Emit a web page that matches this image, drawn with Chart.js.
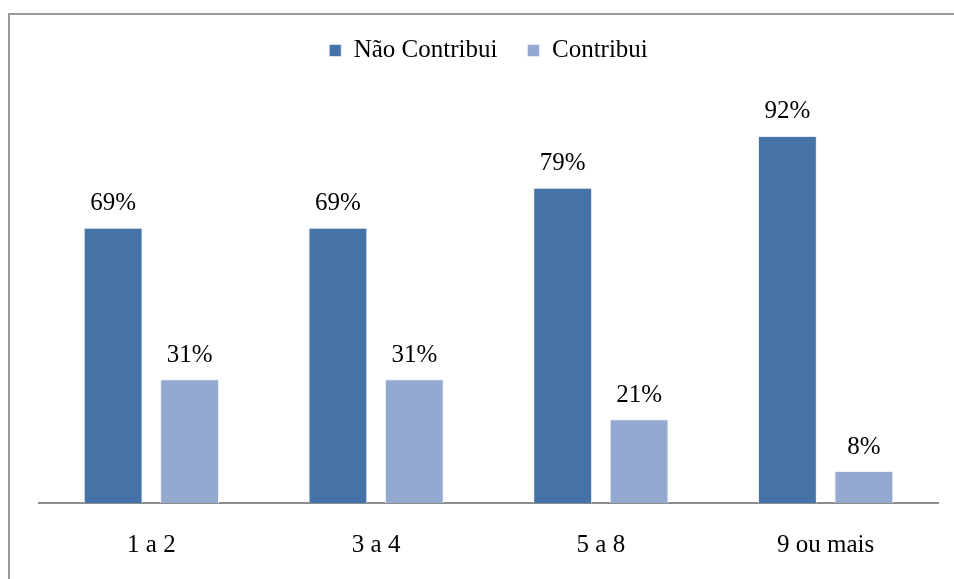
<!DOCTYPE html>
<html>
<head>
<meta charset="utf-8">
<script src="https://cdn.jsdelivr.net/npm/chart.js@4"></script>
<style>
html,body{margin:0;padding:0;background:#fff;}
canvas{display:block;}
</style>
</head>
<body>
<canvas id="c" width="954" height="579"></canvas>
<script>
const categories = ["1 a 2", "3 a 4", "5 a 8", "9 ou mais"];
const naoContribui = [69, 69, 79, 92];
const contribui = [31, 31, 21, 8];
const seriesNames = ["Não Contribui", "Contribui"];

const FONT = "'Liberation Serif', 'Times New Roman', serif";
const FSIZE = 25;

const framePlugin = {
  id: 'frame',
  beforeDraw(chart) {
    const ctx = chart.ctx;
    ctx.save();
    ctx.fillStyle = '#fff';
    ctx.fillRect(0, 0, chart.width, chart.height);
    ctx.strokeStyle = '#9a9a9a';
    ctx.lineWidth = 2;
    ctx.beginPath();
    ctx.moveTo(9, chart.height);
    ctx.lineTo(9, 14);
    ctx.lineTo(chart.width, 14);
    ctx.stroke();
    ctx.restore();
  }
};

const legendHeight = {
  id: 'legendHeight',
  beforeInit(chart) {
    const orig = chart.legend.fit;
    chart.legend.fit = function () {
      orig.bind(chart.legend)();
      this.height = 96;
    };
  }
};

const labelPlugin = {
  id: 'valueLabels',
  afterDatasetsDraw(chart) {
    const ctx = chart.ctx;
    ctx.save();
    ctx.font = FSIZE + 'px ' + FONT;
    ctx.fillStyle = '#000';
    ctx.textAlign = 'center';
    ctx.textBaseline = 'middle';
    chart.data.datasets.forEach((ds, i) => {
      const meta = chart.getDatasetMeta(i);
      meta.data.forEach((el, j) => {
        ctx.fillText(ds.data[j] + '%', el.x, el.y - 24);
      });
    });
    ctx.restore();
  }
};

new Chart(document.getElementById('c'), {
  type: 'bar',
  data: {
    labels: categories,
    datasets: [
      { label: seriesNames[0], data: naoContribui, backgroundColor: '#4572A7',
        borderColor: '#e8ecf3', borderWidth: {left:1,right:1,top:1,bottom:0},
        categoryPercentage: 0.68, barPercentage: 0.77 },
      { label: seriesNames[1], data: contribui, backgroundColor: '#93A9CF',
        borderColor: '#eef1f6', borderWidth: {left:1,right:1,top:1,bottom:0},
        categoryPercentage: 0.68, barPercentage: 0.77 }
    ]
  },
  options: {
    responsive: false,
    animation: false,
    layout: { padding: { top: 8, left: 39, right: 16, bottom: 19 } },
    plugins: {
      legend: {
        position: 'top',
        labels: {
          boxWidth: 12, boxHeight: 12, padding: 30,
          color: '#000',
          font: { family: FONT, size: FSIZE }
        }
      },
      tooltip: { enabled: false }
    },
    scales: {
      x: {
        grid: { display: false, drawTicks: false },
        border: { display: true, color: '#8c8c8c', width: 2 },
        ticks: { color: '#000', padding: 27, font: { family: FONT, size: FSIZE } },
        afterFit(scale) { scale.height = 57; }
      },
      y: {
        display: false,
        min: 0, max: 100
      }
    }
  },
  plugins: [framePlugin, legendHeight, labelPlugin]
});
</script>
</body>
</html>
